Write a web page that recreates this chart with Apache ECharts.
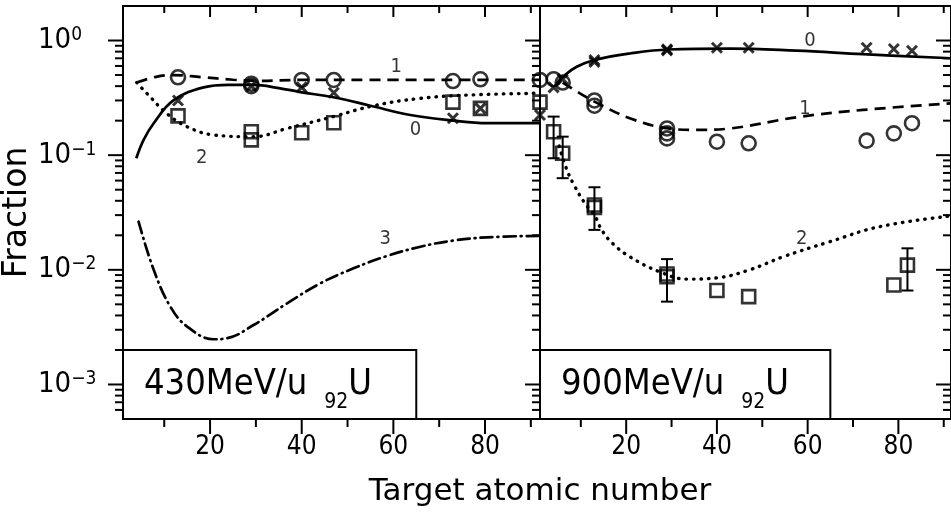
<!DOCTYPE html>
<html><head><meta charset="utf-8">
<script src="https://cdn.jsdelivr.net/npm/echarts@6/dist/echarts.min.js"></script>
<style>html,body{margin:0;padding:0;background:#fff;}#c{width:951px;height:514px;}</style>
</head><body><div id="c"></div>
<script>
// ---------- data ----------
const xTickMajor = [20, 40, 60, 80];
const xTickMinor = [10, 30, 50, 70, 90];
const yTickMajor = [1e-3, 1e-2, 1e-1, 1];
const yTickMinor = [6e-4, 7e-4, 8e-4, 9e-4,
  2e-3, 3e-3, 4e-3, 5e-3, 6e-3, 7e-3, 8e-3, 9e-3,
  2e-2, 3e-2, 4e-2, 5e-2, 6e-2, 7e-2, 8e-2, 9e-2,
  0.2, 0.3, 0.4, 0.5, 0.6, 0.7, 0.8, 0.9];

// 430 MeV/u panel (Z, fraction)
const curve0_430 = [[3.9,0.094],[5.5,0.136],[7.7,0.19],[12,0.30],[18.6,0.39],[24,0.41],[29.5,0.41],[35,0.385],[39.7,0.355],[46.9,0.32],[55,0.27],[63.7,0.224],[73.1,0.20],[80.4,0.19],[92,0.19]];
const curve1_430 = [[4,0.43],[8,0.48],[12,0.50],[18,0.48],[25,0.455],[30,0.445],[40,0.453],[60,0.453],[80,0.453],[92,0.453]];
const curve2_430 = [[4,0.43],[7,0.32],[10.6,0.23],[15,0.177],[20.8,0.15],[29.5,0.145],[36.8,0.171],[46.9,0.217],[55.7,0.27],[65.9,0.313],[76.8,0.335],[92,0.347]];
const curve3_430 = [[4.4,0.0263],[7.7,0.0100],[11.3,0.0048],[15,0.0032],[20.8,0.00248],[23.7,0.00253],[29.5,0.0033],[36.8,0.0051],[44,0.0076],[51.3,0.0103],[58.6,0.0132],[65.9,0.0159],[73.1,0.018],[80.4,0.0192],[92,0.0198]];
const q0_430 = [[13,0.30],[29,0.40],[40,0.39],[47,0.35],[73,0.21],[79,0.256],[92,0.224]];
const q1_430 = [[13,0.478],[29,0.42],[29,0.40],[40,0.453],[47,0.453],[73,0.443],[79,0.459],[92,0.453]];
const q2_430 = [[13,0.22],[29,0.16],[29,0.136],[40,0.157],[47,0.192],[73,0.29],[79,0.256],[92,0.29]];
const labels_430 = [['0',64.8,0.166],['1',60.6,0.591],['2',18.2,0.094],['3',58.2,0.0185]];

// 900 MeV/u panel (Z, fraction)
const curve0_900 = [[4.6,0.42],[6.5,0.50],[9.1,0.59],[13,0.676],[20.8,0.77],[29.3,0.835],[42.9,0.85],[57.5,0.815],[72.2,0.76],[91.6,0.70]];
const curve1_900 = [[6,0.43],[9.8,0.346],[13,0.293],[20.8,0.21],[29.3,0.171],[35.5,0.166],[42.9,0.171],[57.5,0.214],[72.2,0.248],[91.6,0.283]];
const curve2_900 = [[5.2,0.12],[6.9,0.075],[8.5,0.055],[10.9,0.038],[13,0.03],[14.6,0.0223],[17,0.017],[20.8,0.013],[27.4,0.0096],[33.3,0.0083],[39.9,0.0085],[47.2,0.010],[54.6,0.013],[64.9,0.0176],[75.9,0.0238],[91.6,0.0295]];
const q0_900 = [[4,0.39],[6,0.46],[13,0.676],[13,0.65],[29,0.838],[29,0.82],[40,0.865],[47,0.865],[73,0.865],[79,0.843],[83,0.815]];
const q1_900 = [[4,0.46],[6,0.43],[13,0.30],[13,0.27],[29,0.171],[29,0.155],[29,0.14],[40,0.131],[47,0.127],[73,0.134],[79,0.155],[83,0.19]];
const q2_900 = [[4,0.16],[6,0.104],[13,0.0368],[13,0.035],[29,0.0087],[29,0.0092],[40,0.0066],[47,0.00584],[79,0.00738],[82,0.011]];
const err2_900 = [[4,0.094,0.217],[6,0.063,0.145],[13,0.0223,0.0525],[29,0.00528,0.0124],[82,0.0066,0.0154]];
const labels_900 = [['0',60.5,1.0],['1',59.4,0.256],['2',58.7,0.0185]];

// ---------- chart ----------
const FT = "'Liberation Sans Narrow','DejaVu Sans Condensed',sans-serif";
const FC = "'DejaVu Sans Condensed','DejaVu Sans',sans-serif";
const FW = "'DejaVu Sans',sans-serif";
const YMIN = 5e-4, YMAX = 2;
const XMIN = 1, XMAX = [92, 91.6];
const BLK = '#000';
const tickStyle = {stroke: BLK, lineWidth: 2};

function yTickSeries(g, right) {
  const data = yTickMajor.map(v => [XMIN, v, 1]).concat(yTickMinor.map(v => [XMIN, v, 0]));
  return {
    type: 'custom', xAxisIndex: g, yAxisIndex: g, silent: true, z: 5,
    encode: {x: 0, y: 1}, data,
    renderItem(params, api) {
      const cs = params.coordSys;
      const y = api.coord([api.value(0), api.value(1)])[1];
      const len = api.value(2) ? 15 : 8;
      const ch = [{type: 'line', shape: {x1: cs.x - len, y1: y, x2: cs.x, y2: y}, style: tickStyle}];
      if (right) ch.push({type: 'line', shape: {x1: cs.x + cs.width - len, y1: y, x2: cs.x + cs.width, y2: y}, style: tickStyle});
      return {type: 'group', children: ch};
    }
  };
}
function xTickSeries(g) {
  const data = xTickMajor.map(v => [v, YMIN, 1]).concat(xTickMinor.map(v => [v, YMIN, 0]));
  return {
    type: 'custom', xAxisIndex: g, yAxisIndex: g, silent: true, z: 5,
    encode: {x: 0, y: 1}, data,
    renderItem(params, api) {
      const cs = params.coordSys;
      const x = api.coord([api.value(0), api.value(1)])[0];
      const m = api.value(2);
      const b = cs.y + cs.height, t = cs.y;
      return {type: 'group', children: [
        {type: 'line', shape: {x1: x, y1: b, x2: x, y2: b + (m ? 15 : 8)}, style: tickStyle},
        {type: 'line', shape: {x1: x, y1: t, x2: x, y2: t + (m ? 11 : 7)}, style: tickStyle}
      ]};
    }
  };
}
function curve(g, data, kind, extra) {
  const ls = {color: BLK, width: 2.7};
  if (kind === 'dash') { ls.type = [11, 7]; }
  if (kind === 'dot') { ls.type = [0.5, 7]; ls.cap = 'round'; ls.width = 3.4; }
  if (kind === 'dashdot') { ls.type = [12, 5, 1, 5]; ls.cap = 'round'; ls.width = 2.7; }
  return Object.assign({
    type: 'line', xAxisIndex: g, yAxisIndex: g, data, smooth: 0.4,
    showSymbol: false, symbol: 'none', lineStyle: ls, silent: true, z: 3
  }, extra || {});
}
const markerStyle = {color: 'rgba(0,0,0,0)', borderColor: BLK, borderWidth: 2.6};
function pts(g, data, sym) {
  const s = {circle: ['circle', 14], square: ['rect', 13], cross: ['path://M0,0L10,10M10,0L0,10', 10]}[sym];
  return {type: 'scatter', xAxisIndex: g, yAxisIndex: g, data, symbol: s[0], symbolSize: s[1],
    itemStyle: Object.assign({}, markerStyle, sym === 'cross' ? {borderWidth: 3} : {}), silent: true, z: 4};
}
function curveLabels(g, arr) {
  return {type: 'scatter', xAxisIndex: g, yAxisIndex: g, symbolSize: 0, silent: true, z: 6,
    data: arr.map(a => ({name: a[0], value: [a[1], a[2]]})),
    label: {show: true, position: 'inside', formatter: p => p.name, fontSize: 20, fontFamily: FC, color: BLK}};
}
function energyBox(label) {
  return {
    silent: true,
    itemStyle: {color: '#fff', borderColor: BLK, borderWidth: 2},
    label: {show: true, position: 'insideLeft', distance: 22,
      formatter: () => '{m|' + label + '}{s|92}{m|U}',
      rich: {
        m: {fontSize: 36, fontFamily: FC, color: BLK, lineHeight: 58},
        s: {fontSize: 21, fontFamily: FC, color: BLK, lineHeight: 16, verticalAlign: 'bottom', padding: [0, 0, 0, 17]}
      }},
    data: [[{xAxis: XMIN, yAxis: YMIN}, {xAxis: 65, yAxis: 2e-3}]]
  };
}
function errBars(g, data) {
  return {type: 'custom', xAxisIndex: g, yAxisIndex: g, silent: true, z: 4,
    encode: {x: 0, y: [1, 2]}, data,
    renderItem(params, api) {
      const x = api.value(0);
      const lo = api.coord([x, api.value(1)]), hi = api.coord([x, api.value(2)]);
      const w = 6, st = {stroke: BLK, lineWidth: 2};
      return {type: 'group', children: [
        {type: 'line', shape: {x1: lo[0], y1: lo[1], x2: hi[0], y2: hi[1]}, style: st},
        {type: 'line', shape: {x1: lo[0] - w, y1: lo[1], x2: lo[0] + w, y2: lo[1]}, style: st},
        {type: 'line', shape: {x1: hi[0] - w, y1: hi[1], x2: hi[0] + w, y2: hi[1]}, style: st}
      ]};
    }};
}
function xAxisCfg(g) {
  return {type: 'value', gridIndex: g, min: XMIN, max: XMAX[g],
    axisLine: {show: false}, axisTick: {show: false}, splitLine: {show: false},
    axisLabel: {customValues: xTickMajor, fontSize: 26, fontFamily: FT, color: BLK, margin: 15}};
}
function yAxisCfg(g) {
  const c = {type: 'log', gridIndex: g, min: YMIN, max: YMAX, logBase: 10,
    axisLine: {show: false}, axisTick: {show: false}, splitLine: {show: false}, minorTick: {show: false},
    axisLabel: {show: false}};
  if (g === 0) {
    c.axisLabel = {show: true, showMinLabel: false, showMaxLabel: false, align: 'left', margin: 85,
      formatter: v => { const e = Math.round(Math.log10(v)); return '{b|10}{e|' + (e < 0 ? '\u2212' + (-e) : String(e)) + '}'; },
      rich: {b: {fontSize: 29, fontFamily: FT, color: BLK, lineHeight: 30},
             e: {fontSize: 19, fontFamily: FT, color: BLK, lineHeight: 20, verticalAlign: 'top'}}};
    c.name = 'Fraction';
    c.nameLocation = 'middle';
    c.nameGap = 81;
    c.nameTextStyle = {fontSize: 33, fontFamily: FW, color: BLK};
  }
  return c;
}

const chart = echarts.init(document.getElementById('c'), null, {renderer: 'canvas'});
chart.setOption({
  animation: false,
  backgroundColor: '#fff',
  grid: [
    {left: 123, top: 6, width: 417, height: 413, show: true, borderColor: BLK, borderWidth: 2, backgroundColor: 'rgba(0,0,0,0)'},
    {left: 540, top: 6, width: 411, height: 413, show: true, borderColor: BLK, borderWidth: 2, backgroundColor: 'rgba(0,0,0,0)'}
  ],
  xAxis: [xAxisCfg(0), xAxisCfg(1)],
  yAxis: [yAxisCfg(0), yAxisCfg(1)],
  graphic: [{type: 'text', x: 540, y: 492, style: {text: 'Target atomic number', fontSize: 31, fontFamily: FW, fill: BLK, align: 'center', verticalAlign: 'middle'}}],
  series: [
    curve(0, curve0_430, 'solid'),
    curve(0, curve1_430, 'dash'),
    curve(0, curve2_430, 'dot'),
    curve(0, curve3_430, 'dashdot', {markArea: energyBox('430MeV/u')}),
    pts(0, q0_430, 'cross'), pts(0, q1_430, 'circle'), pts(0, q2_430, 'square'),
    curveLabels(0, labels_430),
    curve(1, curve0_900, 'solid'),
    curve(1, curve1_900, 'dash'),
    curve(1, curve2_900, 'dot', {markArea: energyBox('900MeV/u')}),
    errBars(1, err2_900),
    pts(1, q0_900, 'cross'), pts(1, q1_900, 'circle'), pts(1, q2_900, 'square'),
    curveLabels(1, labels_900),
    yTickSeries(0, false), yTickSeries(1, true), xTickSeries(0), xTickSeries(1)
  ]
});
</script></body></html>
